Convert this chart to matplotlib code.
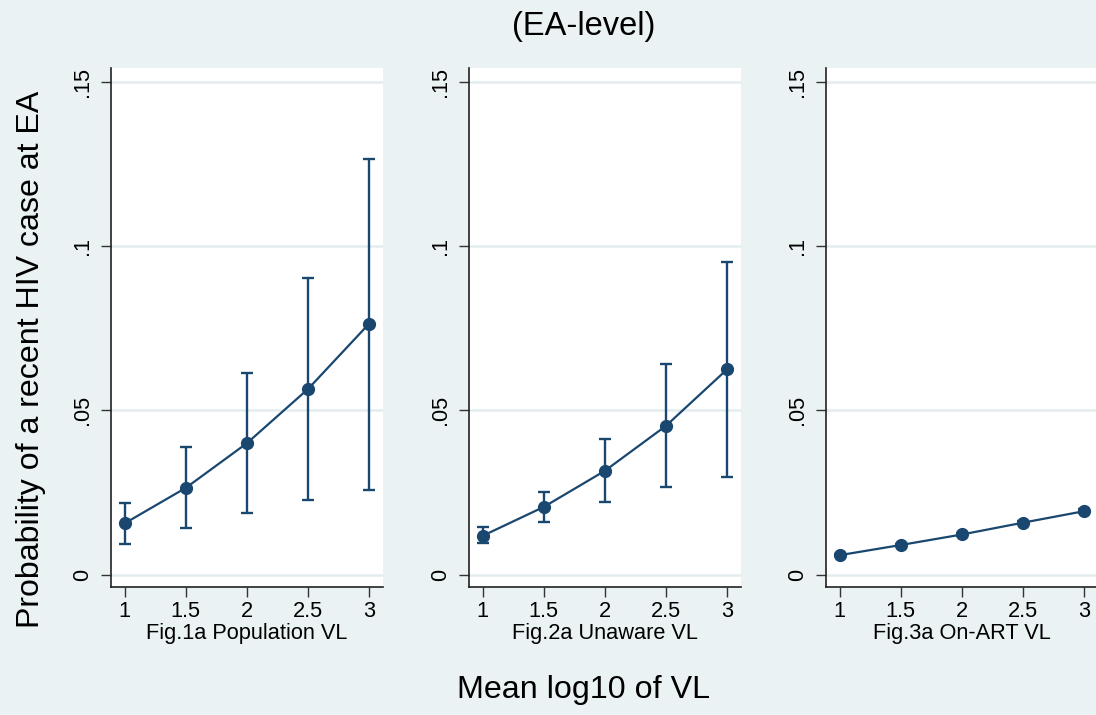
import matplotlib
matplotlib.use("Agg")
import matplotlib.pyplot as plt
import numpy as np

# Datos
vl = [1, 1.5, 2, 2.5, 3]
pop_p = [0.0156, 0.0264, 0.0400, 0.0565, 0.0764]
pop_lo = [0.0094, 0.0142, 0.0186, 0.0226, 0.0258]
pop_hi = [0.0218, 0.0388, 0.0614, 0.0904, 0.1267]
unaw_p = [0.0118, 0.0206, 0.0316, 0.0453, 0.0625]
unaw_lo = [0.0096, 0.0161, 0.0220, 0.0267, 0.0296]
unaw_hi = [0.0144, 0.0252, 0.0413, 0.0640, 0.0951]
art_p = [0.0059, 0.0090, 0.0122, 0.0158, 0.0193]
art_lo = [0.0056, 0.0086, 0.0118, 0.0153, 0.0186]
art_hi = [0.0062, 0.0094, 0.0126, 0.0163, 0.0200]
paneles = ["Fig.1a Population VL", "Fig.2a Unaware VL", "Fig.3a On-ART VL"]
yticks = [0, 0.05, 0.1, 0.15]
ytick_labels = ["0", ".05", ".1", ".15"]
xtick_labels = ["1", "1.5", "2", "2.5", "3"]

bg = "#EAF2F3"
navy = "#1A476F"
plt.rcParams["font.family"] = ["Liberation Sans", "DejaVu Sans"]

W, H = 1096, 715
fig = plt.figure(figsize=(W / 100, H / 100), dpi=100, facecolor=bg)

top, bottom = 68.3, 586.7
lefts = [111, 469, 826]
width = 272

series = [(pop_p, pop_lo, pop_hi), (unaw_p, unaw_lo, unaw_hi), (art_p, art_lo, art_hi)]

for i, (p, lo, hi) in enumerate(series):
    ax = fig.add_axes([lefts[i] / W, 1 - bottom / H, width / W, (bottom - top) / H])
    ax.set_facecolor("white")
    p = np.array(p)
    yerr = [p - np.array(lo), np.array(hi) - p]
    ax.errorbar(vl, p, yerr=yerr, fmt="none", ecolor=navy, elinewidth=1.7,
                capsize=4, capthick=1.7, zorder=3)
    ax.plot(vl, p, color=navy, lw=1.6, marker="o", markersize=8.5, zorder=4)

    ax.set_xlim(0.888, 3.114)
    ax.set_ylim(-0.0037, 0.1542)
    ax.set_yticks(yticks)
    ax.set_yticklabels(ytick_labels, rotation=90, va="center", fontsize=15.7)
    ax.set_xticks(vl)
    ax.set_xticklabels(xtick_labels, fontsize=15.7)
    ax.grid(axis="y", color="#E3EDEF", linewidth=1.8, zorder=0)
    ax.set_axisbelow(True)
    for s in ["top", "right"]:
        ax.spines[s].set_visible(False)
    for s in ["left", "bottom"]:
        ax.spines[s].set_color("#222222")
        ax.spines[s].set_linewidth(1.2)
    ax.tick_params(axis="both", length=7, width=1.0, color="#333333", pad=3)
    ax.tick_params(axis="y", pad=6)
    ax.set_xlabel(paneles[i], fontsize=15.7, labelpad=1)

fig.text(584 / W, 1 - 26 / H, "(EA-level)", ha="center", va="center", fontsize=23.5)
fig.text(584 / W, 1 - 690 / H, "Mean log10 of VL", ha="center", va="center", fontsize=23.2)
fig.text(31 / W, 1 - 359 / H, "Probability of a recent HIV case at EA", ha="center",
         va="center", rotation=90, fontsize=23.1)

fig.savefig("out.png", dpi=100, facecolor=bg)
